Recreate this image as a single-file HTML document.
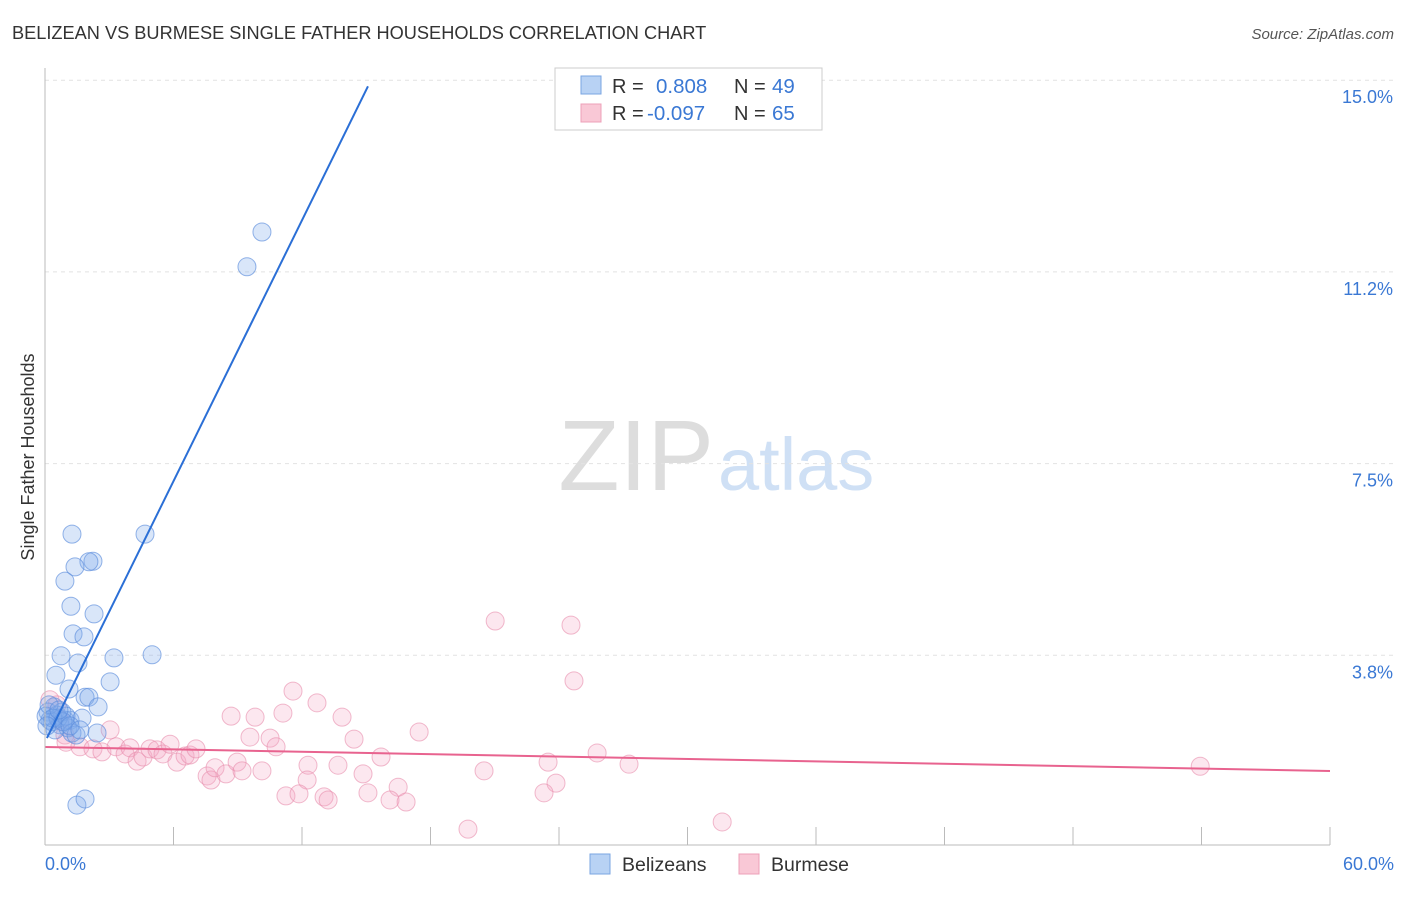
<!DOCTYPE html>
<html><head><meta charset="utf-8"><style>
body{margin:0;background:#fff;font-family:"Liberation Sans",sans-serif}
svg text{font-family:"Liberation Sans",sans-serif}
</style></head><body>
<svg id="c" width="1406" height="892">
<text x="12" y="39" font-size="18.2" fill="#333">BELIZEAN VS BURMESE SINGLE FATHER HOUSEHOLDS CORRELATION CHART</text>
<text x="1394" y="39" font-size="15" fill="#555" font-style="italic" text-anchor="end">Source: ZipAtlas.com</text>
<text x="714" y="490" font-size="100" fill="#ddd" text-anchor="end" font-family="Liberation Serif">ZIP</text>
<text x="718" y="490" font-size="74" fill="#cfe0f5">atlas</text>
<text transform="translate(34,457) rotate(-90)" font-size="18" fill="#333" text-anchor="middle">Single Father Households</text>
<g id="grid"></g><g id="pts"></g><g id="lines"></g>
<line x1="45" y1="68" x2="45" y2="845" stroke="#bbb"/>
<line x1="45" y1="845" x2="1330" y2="845" stroke="#bbb"/>
<text x="45" y="870" font-size="18" fill="#3a78d4">0.0%</text>
<text x="1394" y="870" font-size="18" fill="#3a78d4" text-anchor="end">60.0%</text>
<g>
<rect x="555" y="68" width="267" height="62" fill="#fff" stroke="#ccc"/>
<rect x="581" y="76" width="20" height="18" fill="#b8d2f4" stroke="#7aa5e2"/>
<rect x="581" y="104" width="20" height="18" fill="#f9c8d6" stroke="#eda0b8"/>
<text x="612" y="93" font-size="20" fill="#333">R = </text><text x="656" y="93" font-size="20.5" fill="#3a78d4">0.808</text>
<text x="734" y="93" font-size="20" fill="#333">N = </text><text x="772" y="93" font-size="20.5" fill="#3a78d4">49</text>
<text x="612" y="120" font-size="20" fill="#333">R = </text><text x="647" y="120" font-size="20.5" fill="#3a78d4">-0.097</text>
<text x="734" y="120" font-size="20" fill="#333">N = </text><text x="772" y="120" font-size="20.5" fill="#3a78d4">65</text>
</g>
<g>
<rect x="590" y="854" width="20" height="20" fill="#b8d2f4" stroke="#7aa5e2"/>
<text x="622" y="871" font-size="19.5" fill="#333">Belizeans</text>
<rect x="739" y="854" width="20" height="20" fill="#f9c8d6" stroke="#eda0b8"/>
<text x="771" y="871" font-size="19.5" fill="#333">Burmese</text>
</g>
</svg>
<script>
const yTicks=[3.75,7.5,11.25,15];
const yTickLabels=["3.8%","7.5%","11.2%","15.0%"];
const xTicks=[0,6,12,18,24,30,36,42,48,54,60];
const blueX=[10.13,9.43,1.26,4.67,2.24,2.05,1.40,0.93,1.21,2.29,1.31,1.82,0.75,3.22,5.00,1.54,0.51,1.12,3.04,1.87,2.05,0.42,2.48,0.14,0.56,0.93,1.17,1.73,0.23,0.70,1.07,0.33,0.05,0.79,0.47,1.26,1.45,2.43,0.61,0.98,1.49,1.87,0.19,0.37,0.84,0.09,0.65,1.17,1.63];
const blueY=[12.03,11.35,6.12,6.12,5.59,5.58,5.48,5.20,4.71,4.56,4.17,4.11,3.74,3.70,3.76,3.60,3.36,3.09,3.23,2.93,2.93,2.74,2.74,2.64,2.58,2.48,2.48,2.52,2.48,2.39,2.33,2.45,2.56,2.64,2.29,2.23,2.19,2.23,2.52,2.56,0.82,0.94,2.78,2.52,2.45,2.37,2.68,2.37,2.29];
const pinkX=[21.02,24.56,24.70,11.58,12.70,8.69,9.81,11.11,13.87,17.47,9.57,10.51,14.43,10.79,3.04,0.93,0.23,0.56,0.98,1.63,2.24,2.66,3.32,3.74,3.97,4.30,4.58,4.90,5.23,5.51,5.84,6.16,6.54,6.77,7.05,7.57,7.75,7.94,8.45,8.97,9.20,10.13,12.28,13.68,15.69,12.24,14.85,16.49,11.25,11.86,13.03,13.22,15.08,16.11,16.86,20.50,23.49,23.86,23.30,25.78,27.27,19.75,31.62,53.94,0.70];
const pinkY=[4.42,4.34,3.25,3.05,2.82,2.56,2.54,2.62,2.54,2.25,2.15,2.13,2.11,1.96,2.29,2.19,2.88,2.78,2.05,1.96,1.92,1.86,1.96,1.82,1.94,1.68,1.76,1.92,1.90,1.82,2.01,1.66,1.78,1.80,1.92,1.39,1.31,1.55,1.43,1.66,1.49,1.49,1.60,1.60,1.76,1.31,1.43,1.17,1.00,1.04,0.98,0.92,1.06,0.92,0.88,1.49,1.66,1.25,1.06,1.84,1.62,0.35,0.49,1.58,2.48];
const blueTrend=[0.09,2.13,15.08,14.88];
const pinkTrend=[0,1.956,60,1.487];
const NS="http://www.w3.org/2000/svg";
const sx=v=>45+v/60*1285, sy=v=>847-v*51.12;
function mk(t,p,a){const e=document.createElementNS(NS,t);for(const k in a)e.setAttribute(k,a[k]);p.appendChild(e);return e;}
const grid=document.getElementById('grid');
yTicks.forEach((t,i)=>{
 const l=mk('line',grid,{x1:45,x2:1394,y1:sy(t),y2:sy(t),stroke:'#e2e2e2','stroke-dasharray':'4,4'});
 
 
 const tx=mk('text',grid,{x:1393,y:sy(t)+23,'font-size':18,fill:'#3a78d4','text-anchor':'end'});
 tx.textContent=yTickLabels[i];
 
 
});
xTicks.forEach(t=>{
 const l=mk('line',grid,{x1:sx(t),x2:sx(t),y1:827,y2:845,stroke:'#bbb'});
 
 
});
const pts=document.getElementById('pts');
pinkX.forEach((x,i)=>{
 const c=mk('circle',pts,{cx:sx(x),cy:sy(pinkY[i]),r:9,fill:'rgba(244,170,196,0.28)',stroke:'rgba(232,140,172,0.6)'});
 
 
});
blueX.forEach((x,i)=>{
 const c=mk('circle',pts,{cx:sx(x),cy:sy(blueY[i]),r:9,fill:'rgba(130,172,235,0.3)',stroke:'rgba(90,140,220,0.65)'});
 
 
});
const lines=document.getElementById('lines');
const bl=mk('line',lines,{x1:sx(blueTrend[0]),y1:sy(blueTrend[1]),x2:sx(blueTrend[2]),y2:sy(blueTrend[3]),stroke:'#2b6fd6','stroke-width':2});


const pl=mk('line',lines,{x1:sx(pinkTrend[0]),y1:sy(pinkTrend[1]),x2:sx(pinkTrend[2]),y2:sy(pinkTrend[3]),stroke:'#e8638f','stroke-width':2});


</script>
</body></html>
